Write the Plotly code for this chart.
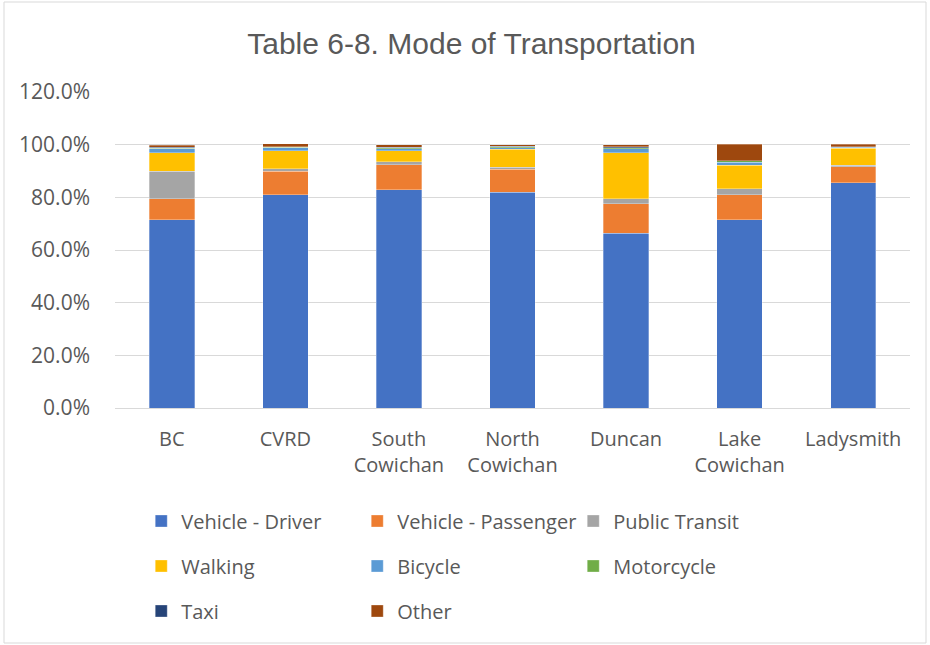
import plotly.graph_objects as go

categories = ["BC", "CVRD", "South<br>Cowichan", "North<br>Cowichan", "Duncan", "Lake<br>Cowichan", "Ladysmith"]
driver     = [71.5, 81.0, 82.9, 82.0, 66.4, 71.5, 85.6]
passenger  = [7.9, 8.9, 9.5, 8.6, 11.2, 9.5, 6.0]
transit    = [10.5, 1.0, 1.1, 0.8, 1.8, 2.3, 0.5]
walking    = [7.0, 6.8, 4.2, 6.8, 17.5, 8.9, 6.5]
bicycle    = [1.5, 1.1, 0.8, 0.7, 1.6, 1.1, 0.4]
motorcycle = [0.3, 0.3, 0.4, 0.3, 0.4, 0.6, 0.2]
taxi       = [0.3, 0.1, 0.2, 0.2, 0.3, 0.0, 0.1]
other      = [0.8, 1.1, 0.9, 0.6, 0.8, 6.2, 0.9]

series = [
    ("Vehicle - Driver", driver, "#4472C4", "legend"),
    ("Vehicle - Passenger", passenger, "#ED7D31", "legend"),
    ("Public Transit", transit, "#A5A5A5", "legend"),
    ("Walking", walking, "#FFC000", "legend2"),
    ("Bicycle", bicycle, "#5B9BD5", "legend2"),
    ("Motorcycle", motorcycle, "#70AD47", "legend2"),
    ("Taxi", taxi, "#264478", "legend3"),
    ("Other", other, "#9E480E", "legend3"),
]

FONT = "Open Sans, Liberation Sans, sans-serif"
GREY = "#595959"

fig = go.Figure()
for name, vals, color, lg in series:
    fig.add_trace(go.Bar(
        x=categories, y=[v / 100 for v in vals], name=name,
        marker=dict(color=color, line=dict(color="rgba(255,255,255,0.6)", width=0.5)),
        legend=lg,
    ))

def legend_cfg(ypix):
    return dict(
        orientation="h", x=0.033, xanchor="left",
        y=(408 - ypix) / 316, yanchor="middle",
        entrywidth=171, entrywidthmode="pixels",
        font=dict(family=FONT, size=20, color=GREY),
        bgcolor="rgba(0,0,0,0)", traceorder="normal",
    )

fig.update_layout(
    width=930, height=645,
    barmode="stack", bargap=0.6,
    paper_bgcolor="white", plot_bgcolor="white",
    margin=dict(l=115, r=20, t=92, b=237, autoexpand=False),
    title=dict(text="Table 6-8. Mode of Transportation", x=471.5 / 930, xanchor="center",
               y=1 - 43 / 645, yanchor="middle",
               font=dict(family="Liberation Sans, sans-serif", size=30, color=GREY)),
    legend=legend_cfg(521),
    legend2=legend_cfg(566),
    legend3=legend_cfg(611),
    showlegend=True,
)
fig.update_yaxes(range=[0, 1.2], dtick=0.2, tickformat=".1%",
                 gridcolor="#D9D9D9", gridwidth=1, zeroline=False, showline=False,
                 ticklabelstandoff=24,
                 tickfont=dict(family=FONT, size=21, color=GREY))
fig.update_xaxes(showline=True, linecolor="#D9D9D9", linewidth=1, ticks="",
                 ticklabelstandoff=13,
                 tickfont=dict(family=FONT, size=20, color=GREY))

fig.add_shape(type="rect", xref="paper", yref="paper",
              x0=(4 - 115) / 795, x1=(926 - 115) / 795,
              y0=(408 - 643) / 316, y1=(408 - 2) / 316,
              line=dict(color="#D9D9D9", width=1), fillcolor="rgba(0,0,0,0)", layer="below")

fig.write_html("out.html", config={"displayModeBar": False},
               post_script="document.body.style.margin='0';")
